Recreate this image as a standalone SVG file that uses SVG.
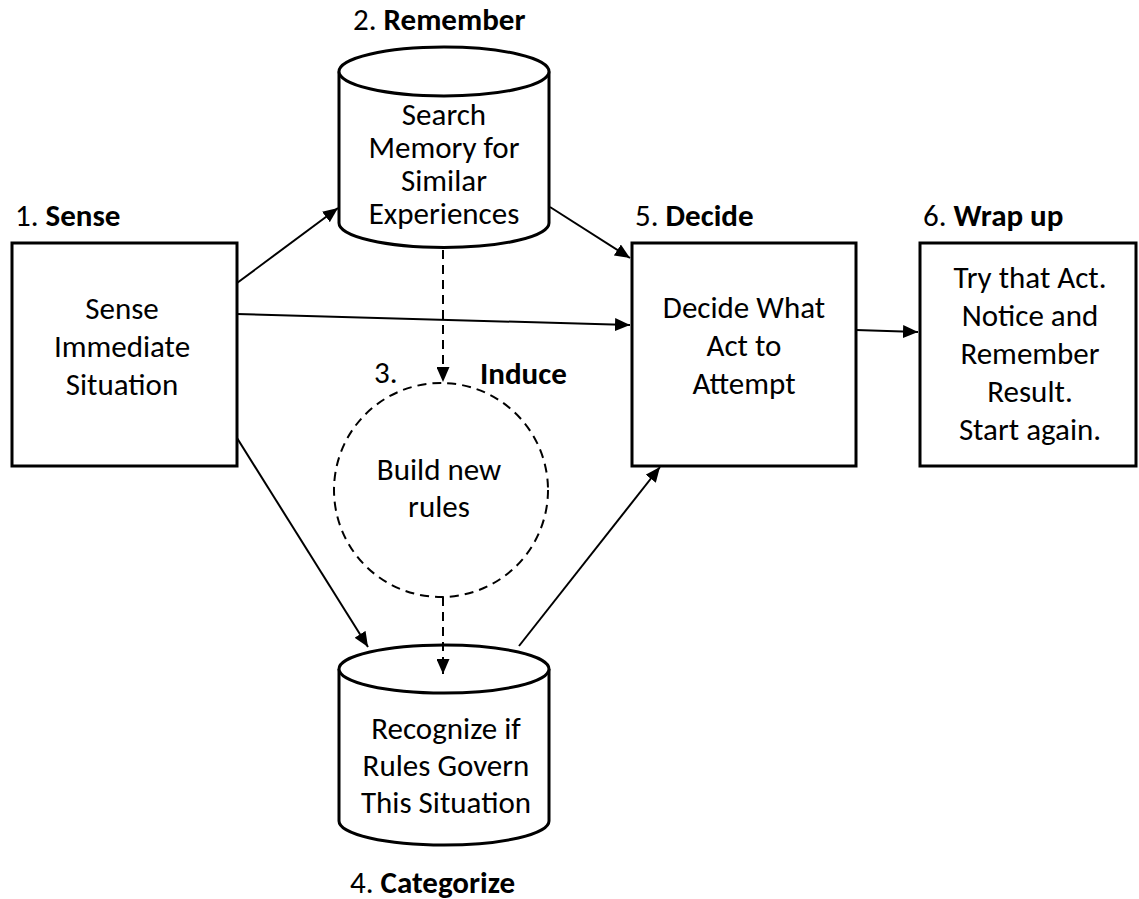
<svg xmlns="http://www.w3.org/2000/svg" width="1139" height="899" viewBox="0 0 1139 899">
<style>
.t{font-family:Carlito,Lato,"Open Sans",sans-serif;font-size:31px;fill:#000;text-anchor:middle}
.h{font-family:Carlito,Lato,"Open Sans",sans-serif;font-size:31px;fill:#000}
.b{font-weight:bold}
.box{fill:#fff;stroke:#000;stroke-width:3}
.c{fill:none;stroke:#000;stroke-width:2}
.d{fill:none;stroke:#000;stroke-width:2;stroke-dasharray:9 6}
</style>
<defs>
<marker id="ah" markerUnits="userSpaceOnUse" markerWidth="15" markerHeight="13" refX="15" refY="6.5" orient="auto">
<path d="M0,0 L15,6.5 L0,13 Z" fill="#000"/>
</marker>
</defs>
<rect width="1139" height="899" fill="#fff"/>

<g id="sense">
<text class="h" x="15" y="226">1. <tspan class="b">Sense</tspan></text>
<rect class="box" x="12" y="243" width="225" height="223"/>
<text class="t" x="122" y="319">Sense</text>
<text class="t" x="122" y="357">Immediate</text>
<text class="t" x="122" y="395">Situation</text>
</g>

<g id="remember">
<text class="h" x="353" y="30">2. <tspan class="b">Remember</tspan></text>
<path class="box" d="M339,71.5 L339,223 A105,24.5 0 0 0 549,223 L549,71.5"/>
<ellipse class="box" cx="444" cy="71.5" rx="105" ry="24.5"/>
<text class="t" x="444" y="125">Search</text>
<text class="t" x="444" y="158">Memory for</text>
<text class="t" x="444" y="191">Similar</text>
<text class="t" x="444" y="224">Experiences</text>
</g>

<g id="induce">
<circle class="d" cx="441" cy="490" r="107" fill="none"/>
<text class="h" x="374" y="383">3.</text>
<text class="h b" x="480" y="384">Induce</text>
<text class="t" x="439" y="480">Build new</text>
<text class="t" x="439" y="517">rules</text>
</g>

<g id="categorize">
<path class="box" d="M339,669 L339,821 A105,24 0 0 0 549,821 L549,669"/>
<ellipse class="box" cx="444" cy="669" rx="105" ry="24"/>
<text class="t" x="446" y="739">Recognize if</text>
<text class="t" x="446" y="776">Rules Govern</text>
<text class="t" x="446" y="813">This Situation</text>
<text class="h" x="350" y="893">4. <tspan class="b">Categorize</tspan></text>
</g>

<g id="decide">
<text class="h" x="635" y="226">5. <tspan class="b">Decide</tspan></text>
<rect class="box" x="632" y="243" width="224" height="223"/>
<text class="t" x="744" y="318">Decide What</text>
<text class="t" x="744" y="356">Act to</text>
<text class="t" x="744" y="394">Attempt</text>
</g>

<g id="wrapup">
<text class="h" x="923" y="226">6. <tspan class="b">Wrap up</tspan></text>
<rect class="box" x="920" y="243" width="216" height="223"/>
<text class="t" x="1030" y="288">Try that Act.</text>
<text class="t" x="1030" y="326">Notice and</text>
<text class="t" x="1030" y="364">Remember</text>
<text class="t" x="1030" y="402">Result.</text>
<text class="t" x="1030" y="440">Start again.</text>
</g>

<g id="connectors">
<line class="c" x1="237" y1="283" x2="338" y2="208" marker-end="url(#ah)"/>
<line class="c" x1="237" y1="314" x2="630" y2="325" marker-end="url(#ah)"/>
<line class="c" x1="237" y1="438" x2="368" y2="647" marker-end="url(#ah)"/>
<line class="c" x1="550" y1="207" x2="630" y2="258" marker-end="url(#ah)"/>
<line class="d" x1="443" y1="250" x2="443" y2="382" marker-end="url(#ah)"/>
<line class="d" x1="443" y1="597" x2="443" y2="674" marker-end="url(#ah)"/>
<line class="c" x1="519" y1="646" x2="660" y2="467" marker-end="url(#ah)"/>
<line class="c" x1="856" y1="330" x2="918" y2="332" marker-end="url(#ah)"/>
</g>
</svg>
